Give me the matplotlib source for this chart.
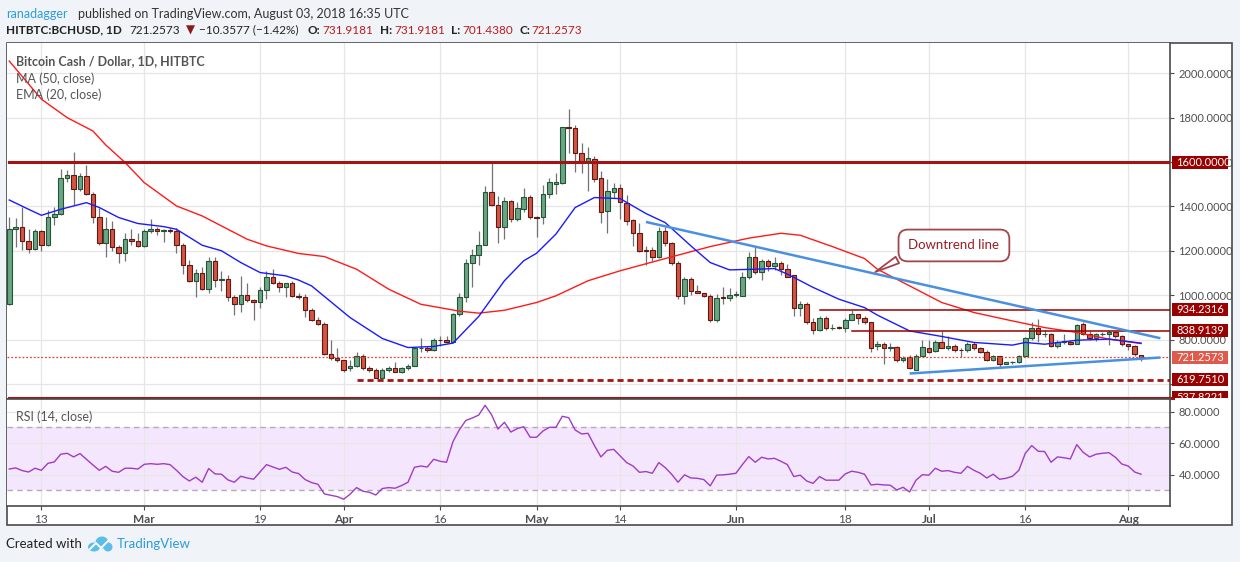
import numpy as np
import matplotlib
matplotlib.use("Agg")
import matplotlib.pyplot as plt
from matplotlib.patches import Rectangle, Ellipse
from matplotlib.transforms import Bbox, TransformedBbox
from matplotlib.ticker import FuncFormatter

plt.rcParams['font.family'] = ['Lato', 'DejaVu Sans']

# daily candles, 2018-02-08 .. 2018-08-03
opens = [962, 1300, 1305, 1242, 1210, 1287, 1228, 1354, 1366, 1530, 1543, 1480, 1539, 1458, 1354, 1236, 1300, 1215, 1192, 1251,
         1245, 1222, 1291, 1297, 1287, 1295, 1291, 1228, 1134, 1066, 1102, 1030, 1156, 1070, 1074, 990, 958, 1003, 980, 971,
         1025, 1084, 1057, 1035, 1057, 997, 994, 931, 890, 872, 733, 719, 706, 670, 683, 728, 674, 661, 629, 661,
         670, 656, 670, 683, 760, 764, 755, 800, 796, 790, 913, 994, 1143, 1179, 1228, 1467, 1408, 1305, 1426, 1345,
         1390, 1444, 1354, 1354, 1458, 1503, 1505, 1757, 1752, 1640, 1599, 1612, 1526, 1381, 1467, 1485, 1417, 1341, 1278, 1205,
         1205, 1174, 1291, 1233, 1143, 998, 1075, 1021, 1012, 998, 890, 991, 986, 1003, 998, 1084, 1170, 1105, 1156, 1132,
         1143, 1116, 1089, 940, 962, 877, 845, 899, 850, 855, 850, 890, 913, 895, 877, 769, 778, 763, 766, 706,
         722, 665, 728, 760, 749, 791, 764, 773, 755, 751, 782, 760, 746, 710, 724, 692, 697, 700, 724, 805,
         854, 823, 827, 769, 791, 791, 782, 872, 827, 805, 823, 827, 832, 814, 778, 773, 731.9181]
highs = [1354, 1347, 1396, 1300, 1297, 1294, 1383, 1396, 1568, 1565, 1643, 1552, 1586, 1467, 1395, 1354, 1332, 1228, 1279, 1300,
         1282, 1300, 1342, 1309, 1300, 1304, 1303, 1234, 1159, 1120, 1125, 1174, 1170, 1111, 1093, 1000, 1087, 1057, 985, 1039,
         1107, 1117, 1066, 1057, 1062, 1010, 1005, 944, 900, 880, 797, 760, 710, 710, 742, 733, 683, 670, 674, 680,
         701, 676, 688, 765, 809, 773, 805, 814, 814, 918, 1012, 1165, 1210, 1291, 1490, 1598, 1449, 1444, 1431, 1422,
         1485, 1453, 1358, 1498, 1527, 1550, 1760, 1841, 1765, 1685, 1668, 1625, 1560, 1522, 1507, 1500, 1450, 1345, 1323, 1222,
         1218, 1309, 1305, 1238, 1156, 1080, 1084, 1044, 1012, 1005, 1007, 1035, 1033, 1020, 1105, 1195, 1216, 1165, 1165, 1170,
         1152, 1140, 1093, 975, 967, 895, 904, 904, 868, 860, 898, 935, 913, 907, 881, 795, 790, 785, 770, 725,
         730, 733, 800, 800, 800, 839, 818, 780, 760, 790, 790, 765, 752, 730, 726, 700, 703, 730, 810, 880,
         892, 845, 830, 800, 823, 800, 872, 880, 840, 830, 835, 845, 840, 820, 782, 776, 731.9181]
lows = [955, 1218, 1204, 1190, 1205, 1200, 1222, 1315, 1360, 1508, 1407, 1470, 1450, 1323, 1225, 1174, 1200, 1146, 1155, 1225,
        1215, 1215, 1282, 1270, 1240, 1282, 1192, 1096, 1060, 994, 1024, 1012, 1038, 1020, 975, 911, 926, 967, 889, 944,
        985, 1050, 1015, 994, 990, 985, 902, 885, 865, 730, 710, 700, 656, 660, 678, 665, 652, 625, 625, 652,
        652, 650, 665, 680, 746, 745, 750, 770, 785, 785, 904, 967, 1039, 1137, 1225, 1400, 1233, 1251, 1330, 1335,
        1375, 1345, 1264, 1320, 1440, 1458, 1500, 1640, 1557, 1550, 1470, 1510, 1327, 1282, 1440, 1345, 1318, 1222, 1195, 1138,
        1155, 1168, 1220, 1138, 985, 961, 1000, 1008, 990, 881, 881, 958, 975, 990, 995, 1074, 1095, 1068, 1107, 1113,
        1092, 1080, 908, 908, 870, 823, 840, 845, 841, 846, 832, 886, 870, 870, 742, 752, 688, 750, 700, 700,
        668, 661, 725, 740, 745, 760, 755, 745, 722, 745, 755, 740, 705, 705, 674, 688, 692, 695, 720, 800,
        791, 810, 765, 760, 780, 775, 778, 820, 800, 795, 815, 775, 805, 770, 755, 725, 701.4380]
closes = [1300, 1305, 1242, 1210, 1287, 1228, 1354, 1366, 1530, 1543, 1480, 1539, 1458, 1354, 1236, 1300, 1215, 1192, 1251, 1245,
          1222, 1291, 1297, 1287, 1295, 1291, 1228, 1134, 1066, 1102, 1030, 1156, 1070, 1074, 990, 958, 1003, 980, 971, 1025,
          1084, 1057, 1035, 1057, 997, 994, 931, 890, 872, 733, 719, 706, 665, 683, 728, 674, 661, 629, 661, 670,
          656, 670, 683, 760, 764, 755, 800, 796, 790, 913, 994, 1143, 1179, 1224, 1467, 1408, 1305, 1426, 1345, 1395,
          1444, 1354, 1349, 1458, 1509, 1509, 1757, 1752, 1640, 1599, 1617, 1523, 1377, 1471, 1485, 1422, 1336, 1282, 1201, 1201,
          1174, 1291, 1233, 1143, 998, 1075, 1021, 1012, 998, 890, 989, 986, 1003, 1006, 1084, 1170, 1105, 1152, 1132, 1147,
          1116, 1084, 940, 962, 877, 845, 899, 850, 852, 850, 890, 913, 895, 877, 764, 778, 760, 766, 706, 718,
          670, 728, 766, 746, 791, 764, 773, 755, 752, 782, 760, 746, 710, 724, 692, 697, 700, 724, 805, 854,
          823, 826, 769, 791, 791, 782, 866, 827, 805, 823, 827, 832, 814, 778, 773, 733, 721.2573]

rsi = [43.5, 44.2, 42.5, 41.6, 44.0, 42.7, 47.1, 48.0, 52.9, 53.5, 51.2, 53.3, 49.7, 46.1, 42.7, 45.2, 42.1, 41.4, 44.0, 44.0,
       43.5, 46.5, 46.9, 46.5, 46.9, 46.3, 42.7, 38.7, 35.9, 38.3, 35.1, 43.8, 40.4, 40.2, 36.6, 35.1, 38.9, 37.8, 37.0, 41.6,
       46.3, 44.8, 43.3, 44.6, 41.6, 40.6, 36.8, 34.9, 33.8, 27.7, 26.8, 26.0, 24.3, 27.5, 31.7, 29.4, 28.7, 27.0, 31.1, 31.7,
       31.3, 33.0, 35.1, 44.6, 45.4, 44.8, 49.7, 48.4, 47.8, 60.9, 68.5, 74.4, 75.9, 77.8, 84.0, 78.0, 68.9, 73.2, 67.0, 69.2,
       70.4, 63.7, 63.7, 67.7, 70.0, 70.0, 77.0, 76.1, 68.3, 65.8, 66.2, 58.4, 51.2, 55.4, 56.0, 51.8, 47.6, 45.4, 41.4, 41.9,
       40.8, 47.6, 44.4, 40.2, 35.1, 39.8, 37.8, 37.6, 36.8, 32.8, 39.6, 39.8, 40.2, 40.8, 46.3, 51.4, 47.8, 51.0, 49.9, 50.3,
       48.4, 46.3, 38.7, 39.6, 35.9, 34.4, 38.7, 36.4, 36.4, 36.4, 40.4, 42.1, 41.4, 40.2, 33.4, 33.8, 33.4, 33.2, 30.2, 31.9,
       28.9, 36.4, 39.9, 39.6, 44.0, 42.1, 42.5, 41.4, 40.8, 45.2, 42.7, 40.8, 37.8, 40.2, 37.0, 37.6, 38.9, 42.7, 53.5, 58.4,
       54.8, 54.6, 47.8, 51.2, 50.7, 49.9, 59.0, 54.1, 51.2, 52.9, 53.5, 53.9, 51.0, 46.7, 45.4, 41.6, 40.2]

# moving averages at candle indices
ma50_idx = [0, 5, 9, 13, 15, 18, 21, 26, 30, 34, 37, 40, 45, 49, 54, 59, 64, 70, 73, 77,
            82, 85, 90, 95, 102, 109, 115, 120, 123, 128, 133, 135, 140, 145, 150, 156, 161, 166, 171, 176]
ma50_val = [2055, 1883, 1800, 1740, 1677, 1598, 1507, 1402, 1357, 1297, 1252, 1222, 1188, 1174, 1117, 1027, 959, 928, 919, 932,
            967, 997, 1065, 1110, 1165, 1219, 1257, 1279, 1270, 1219, 1165, 1117, 1042, 967, 922, 884, 854, 832, 802, 782]
ema20_idx = [0, 3, 5, 8, 12, 14, 17, 20, 24, 26, 30, 33, 36, 39, 43, 45, 47, 53, 58, 62, 66, 69, 73, 77, 80,
             82, 85, 88, 91, 95, 99, 102, 106, 109, 112, 116, 119, 121, 125, 129, 133, 135, 140, 145, 150, 156, 158, 161, 166, 171, 176]
ema20_val = [1429, 1387, 1360, 1387, 1417, 1395, 1350, 1323, 1309, 1297, 1225, 1200, 1147, 1102, 1087, 1068, 1042, 899, 805, 764, 769, 784, 904, 1065, 1155,
             1189, 1275, 1395, 1440, 1435, 1368, 1327, 1222, 1147, 1114, 1117, 1120, 1095, 1035, 982, 944, 910, 839, 814, 787, 775, 787, 779, 797, 802, 784]

# drawn trend lines and horizontal levels
down_idx = [99, 179]
down_val = [1330, 806]
sup_idx = [140, 179]
sup_val = [647, 719]
levels = [1600.0, 934.2316, 838.9139, 619.7510, 537.8221]
level_from = [0, 126, 131, 54, 0]

tick_idx = [5, 21, 39, 52, 67, 82, 95, 113, 130, 143, 158, 174]
tick_lbl = ['13', 'Mar', '19', 'Apr', '16', 'May', '14', 'Jun', '18', 'Jul', '16', 'Aug']
months = {'Mar', 'Apr', 'May', 'Jun', 'Jul', 'Aug'}

W, H = 1240, 562
fig = plt.figure(figsize=(W / 100, H / 100), dpi=100, facecolor='#f0f3f7')


def fx(px):
    return px / W


def fy(py):
    return 1 - py / H


frame = Rectangle((fx(6.7), fy(525)), fx(1232) - fx(6.7), fy(43.3) - fy(525),
                  facecolor='white', edgecolor='#4a4a4a', lw=1.2, zorder=-1, transform=fig.transFigure)
fig.add_artist(frame)

ax = fig.add_axes([fx(6.7), fy(397.7), fx(1170) - fx(6.7), fy(43.3) - fy(397.7)])
rx = fig.add_axes([fx(6.7), fy(506), fx(1170) - fx(6.7), fy(399) - fy(506)], sharex=ax)

x = np.arange(len(closes))
o = np.array(opens)
c = np.array(closes)
up = c >= o

ax.set_xlim(-0.4, 180.5)
ax.set_ylim(538, 2135)
rx.set_ylim(20, 88)

# the 600 label sits behind the 619.75 tag in the original
fmt = FuncFormatter(lambda v, p: '' if abs(v - 600) < 1 else '%.4f' % v)

grid_c = '#e6e6e6'
for a in (ax, rx):
    a.set_axisbelow(True)
    a.grid(True, color=grid_c, lw=0.9)
    a.set_xticks(tick_idx)
    a.yaxis.tick_right()
    a.tick_params(axis='y', length=3, color='#4a4a4a', labelcolor='#4f4f4f', labelsize=8, pad=3)
    a.yaxis.set_major_formatter(fmt)
    a.spines['left'].set_visible(False)
    for s in ('top', 'right', 'bottom'):
        a.spines[s].set_color('#4a4a4a')
        a.spines[s].set_linewidth(1.2)
ax.spines['top'].set_visible(False)
ax.spines['bottom'].set_visible(False)
ax.tick_params(axis='x', length=0, labelbottom=False)
ax.set_yticks(range(600, 2001, 200))
rx.set_yticks([40, 60, 80])

rx.set_xticklabels(tick_lbl)
rx.tick_params(axis='x', length=3, color='#4a4a4a', labelcolor='#4f4f4f', labelsize=8.5, pad=2.5)
for lbl in rx.get_xticklabels():
    if lbl.get_text() in months:
        lbl.set_fontweight('bold')

# candles
ax.vlines(x, lows, highs, color='#737375', lw=0.9, zorder=2)
bottoms = np.minimum(o, c)
heights = np.maximum(np.abs(c - o), 3)
ax.bar(x[up], heights[up], bottom=bottoms[up], width=0.7, color='#6ba583', edgecolor='#225437', lw=0.8, zorder=3)
ax.bar(x[~up], heights[~up], bottom=bottoms[~up], width=0.7, color='#d75442', edgecolor='#5b1a13', lw=0.8, zorder=3)

ax.plot(ma50_idx, ma50_val, color='#ff1a1a', lw=1.0, zorder=4)
ax.plot(ema20_idx, ema20_val, color='#1a1aff', lw=1.0, zorder=4)

# levels
ax.plot([level_from[0], 181], [levels[0]] * 2, color='#a31515', lw=2.2, zorder=5)
ax.plot([level_from[1], 181], [levels[1]] * 2, color='#990000', lw=1.1, zorder=5)
ax.plot([level_from[2], 181], [levels[2]] * 2, color='#990000', lw=1.1, zorder=5)
ax.plot([level_from[3], 181], [levels[3]] * 2, color='#a31515', lw=2.0, ls=(0, (2.2, 1.4)), zorder=5)
ax.plot([level_from[4], 181], [levels[4]] * 2, color='#a31515', lw=2.2, zorder=5, clip_on=False)
ax.axhline(closes[-1], color='#e0453a', lw=0.9, ls=(0, (1.5, 1.5)), zorder=5)

ax.plot(down_idx, down_val, color='#4a90e2', lw=1.8, zorder=6, solid_capstyle='butt')
ax.plot(sup_idx, sup_val, color='#4a90e2', lw=1.8, zorder=6, solid_capstyle='butt')

tip_i = 134.3
tip_v = np.interp(tip_i, down_idx, down_val)
ax.annotate('Downtrend line', xy=(tip_i, tip_v), xytext=(146.9, 1224), ha='center', va='center',
            fontsize=9.5, color='#9b1c24', zorder=8,
            bbox=dict(boxstyle='round,pad=0.75,rounding_size=0.7', fc='white', ec='#a2454a', lw=1.3),
            arrowprops=dict(arrowstyle='wedge,tail_width=0.55,shrink_factor=0.5', fc='white', ec='#a2454a',
                            lw=1.3, relpos=(0.08, 0.12)))

# price tags on the right axis
axw = ax.bbox.width
ppu = ax.bbox.height / (2135 - 538)
clip = TransformedBbox(Bbox.from_extents(1.0, 0.0, 1.07, 1.0), ax.transAxes)
tags = [(levels[0], '#990000'), (levels[1], '#990000'), (levels[2], '#990000'),
        (closes[-1], '#df5a4b'), (levels[3], '#990000'), (levels[4], '#990000')]
for val, bg in tags:
    tr = ax.get_yaxis_transform()
    half = 6.5 / ppu
    r = Rectangle((1 + 1.5 / axw, val - half), 56 / axw, 2 * half, transform=tr, facecolor=bg, edgecolor='none', zorder=10)
    fig.add_artist(r)
    r.set_clip_box(clip)
    t = fig.text(1 + 6.5 / axw, val, '%.4f' % val, transform=tr, color='white', fontsize=8,
                 va='center', ha='left', zorder=11)
    t.set_clip_box(clip)
    t.set_clip_on(True)

# RSI pane
rx.axhspan(30, 70, color='#f3e6fd', zorder=0.2, lw=0)
rx.axhline(70, color='#b4aab8', lw=1, ls=(0, (4, 3)), zorder=1)
rx.axhline(30, color='#b4aab8', lw=1, ls=(0, (4, 3)), zorder=1)
rx.plot(x, rsi, color='#a03cc4', lw=1.0, zorder=3)

# texts
fig.text(fx(15.7), fy(61), 'Bitcoin Cash / Dollar, 1D, HITBTC', fontsize=9, fontweight='bold', color='#555555', va='center')
fig.text(fx(15.7), fy(78.5), 'MA (50, close)', fontsize=9, color='#555555', va='center')
fig.text(fx(15.7), fy(95), 'EMA (20, close)', fontsize=9, color='#555555', va='center')
fig.text(fx(15.7), fy(417), 'RSI (14, close)', fontsize=9, color='#555555', va='center')

fig.text(fx(6), fy(13.5), 'ranadagger', fontsize=9, color='#2d9cdb', va='center')
fig.text(fx(77.5), fy(13.5), 'published on TradingView.com, August 03, 2018 16:35 UTC', fontsize=9, color='#333333', va='center')

dark = '#222222'
red = '#b71c1c'
row = [(6, 'HITBTC:BCHUSD, 1D', dark, 'bold'), (129.7, '721.2573', dark, 'normal'),
       (186, '\u25bc', '#8b1a1a', 'normal'), (198.5, '\u221210.3577 (\u22121.42%)', dark, 'normal'),
       (307.6, 'O:', dark, 'bold'), (322, '731.9181', red, 'normal'),
       (380, 'H:', dark, 'bold'), (394, '731.9181', red, 'normal'),
       (451, 'L:', dark, 'bold'), (462, '701.4380', red, 'normal'),
       (519, 'C:', dark, 'bold'), (531, '721.2573', red, 'normal')]
for px, s, col, wt in row:
    fig.text(fx(px), fy(30), s, fontsize=8.5, color=col, fontweight=wt, va='center',
             family=['Lato', 'DejaVu Sans'])

fig.text(fx(6), fy(544), 'Created with', fontsize=9.5, color='#222222', va='center')
fig.text(fx(117), fy(544), 'TradingView', fontsize=9.5, color='#2d9cdb', va='center')
for cx, cy, w, h in [(94, 547, 12, 9), (102, 542.5, 13, 12), (108, 547, 9, 9)]:
    fig.add_artist(Ellipse((fx(cx), fy(cy)), w / W, h / H, transform=fig.transFigure, facecolor='#5cbcea', edgecolor='none'))
fig.add_artist(plt.Line2D([fx(90), fx(96), fx(101), fx(108)], [fy(549), fy(543), fy(548), fy(541)],
                          transform=fig.transFigure, color='white', lw=1.4))

fig.savefig('out.png', dpi=100, facecolor=fig.get_facecolor())
